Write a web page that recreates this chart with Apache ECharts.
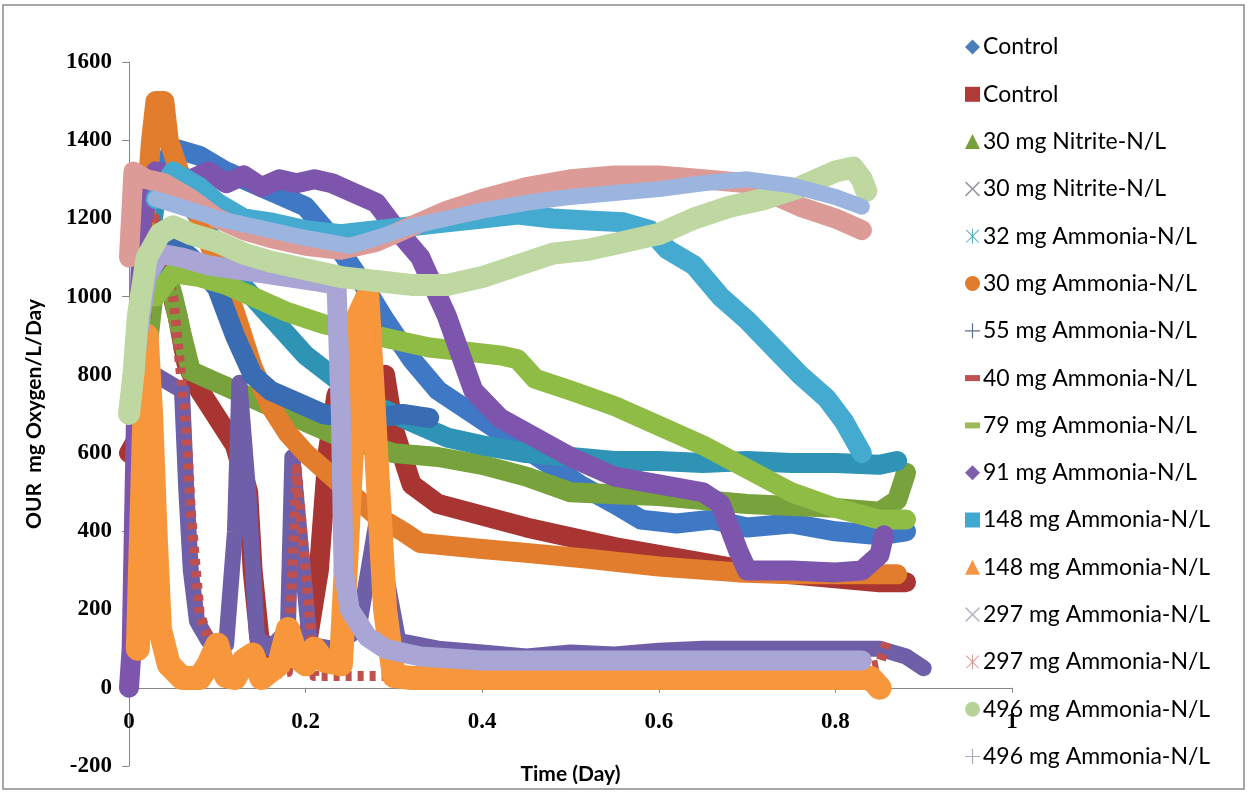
<!DOCTYPE html>
<html><head><meta charset="utf-8">
<script src="https://cdn.jsdelivr.net/npm/echarts/dist/echarts.min.js"></script>
<style>html,body{margin:0;padding:0;background:#fff}#chart{width:1249px;height:793px}</style>
</head><body><div id="chart"></div>
<script>
// ---- legend labels ----
const seriesLabels = [
  'Control', 'Control', '30 mg Nitrite-N/L', '30 mg Nitrite-N/L',
  '32 mg Ammonia-N/L', '30 mg Ammonia-N/L', '55 mg Ammonia-N/L', '40 mg Ammonia-N/L',
  '79 mg Ammonia-N/L', '91 mg Ammonia-N/L', '148 mg Ammonia-N/L', '148 mg Ammonia-N/L',
  '297 mg Ammonia-N/L', '297 mg Ammonia-N/L', '496 mg Ammonia-N/L', '496 mg Ammonia-N/L'
];
// ---- axis ranges [min, max, interval] ----
const xRange = [0, 1, 0.2];
const yRange = [-200, 1600, 200];

// ---- series values [time (day), OUR] ----
const controlDiamond = [[0.01,900],[0.03,1300],[0.05,1380],[0.08,1360],[0.11,1320],[0.14,1290],[0.17,1260],[0.2,1230],[0.23,1150],[0.26,1050],[0.29,940],[0.32,840],[0.35,760],[0.39,700],[0.43,640],[0.47,580],[0.51,520],[0.55,470],[0.58,430],[0.62,420],[0.66,430],[0.7,410],[0.75,420],[0.8,400],[0.85,390],[0.88,400]];
const controlSquare = [[0,600],[0.01,640],[0.025,1150],[0.04,1080],[0.055,950],[0.065,830],[0.08,760],[0.1,690],[0.12,620],[0.135,500],[0.14,300],[0.148,120],[0.16,100],[0.18,100],[0.2,90],[0.215,300],[0.225,600],[0.235,750],[0.25,700],[0.27,780],[0.29,800],[0.3,660],[0.32,520],[0.35,470],[0.4,440],[0.45,410],[0.5,385],[0.55,360],[0.6,340],[0.65,320],[0.7,300],[0.75,290],[0.8,280],[0.85,270],[0.88,270]];
const nitrite30Tri = [[0.02,850],[0.03,1050],[0.04,1080],[0.05,1000],[0.06,900],[0.07,810],[0.09,790],[0.11,770],[0.13,750],[0.15,730],[0.18,700],[0.21,670],[0.24,640],[0.27,620],[0.3,600],[0.35,590],[0.4,570],[0.45,540],[0.5,500],[0.55,495],[0.6,490],[0.65,480],[0.7,470],[0.75,465],[0.8,460],[0.85,450],[0.87,480],[0.88,550]];
const nitrite30X = [[0,0],[0.005,300],[0.01,560],[0.03,800],[0.06,760],[0.065,500],[0.07,300],[0.077,170],[0.09,120],[0.11,110],[0.12,400],[0.125,780],[0.135,500],[0.145,130],[0.16,100],[0.18,150],[0.185,590],[0.195,350],[0.205,110],[0.23,100],[0.26,150],[0.28,420],[0.29,300],[0.305,120],[0.35,100],[0.4,90],[0.45,80],[0.5,90],[0.55,85],[0.6,95],[0.65,100],[0.7,100],[0.75,100],[0.8,100],[0.85,100],[0.88,80],[0.9,50]];
const ammonia32Star = [[0.01,900],[0.03,1250],[0.05,1300],[0.08,1200],[0.12,1050],[0.16,950],[0.2,850],[0.24,780],[0.28,720],[0.32,680],[0.36,640],[0.4,620],[0.45,600],[0.5,590],[0.55,580],[0.6,580],[0.65,575],[0.7,580],[0.75,575],[0.8,575],[0.85,570],[0.87,580]];
const ammonia30Circle = [[0.015,1100],[0.025,1400],[0.03,1500],[0.04,1500],[0.045,1400],[0.06,1300],[0.08,1200],[0.1,1080],[0.12,960],[0.14,820],[0.16,720],[0.18,650],[0.2,600],[0.22,560],[0.25,500],[0.28,440],[0.31,400],[0.33,370],[0.4,355],[0.45,345],[0.52,330],[0.6,310],[0.69,295],[0.75,290],[0.8,290],[0.87,290]];
const ammonia55Plus = [[0.02,1000],[0.04,1150],[0.06,1120],[0.08,1080],[0.1,1020],[0.12,900],[0.14,800],[0.16,760],[0.19,730],[0.22,700],[0.25,690],[0.28,690],[0.31,700],[0.34,690]];
const ammonia40Dash = [[0.01,700],[0.03,1200],[0.05,1000],[0.065,660],[0.07,450],[0.08,190],[0.1,60],[0.12,40],[0.15,30],[0.18,40],[0.19,560],[0.2,300],[0.21,30],[0.24,30],[0.3,30],[0.35,40],[0.4,30],[0.45,40],[0.5,30],[0.6,30],[0.7,40],[0.8,40],[0.85,60],[0.86,130]];
const ammonia79Dash = [[0.03,1000],[0.05,1060],[0.08,1050],[0.11,1030],[0.14,1000],[0.18,960],[0.22,930],[0.26,910],[0.3,890],[0.34,870],[0.38,860],[0.42,850],[0.44,840],[0.46,790],[0.5,760],[0.55,720],[0.6,670],[0.65,620],[0.7,560],[0.75,500],[0.8,460],[0.85,430],[0.88,430]];
const ammonia91Diamond = [[0,0],[0.003,100],[0.008,700],[0.015,1200],[0.03,1320],[0.05,1310],[0.07,1300],[0.09,1320],[0.11,1290],[0.13,1310],[0.15,1280],[0.17,1300],[0.19,1290],[0.21,1300],[0.23,1290],[0.25,1270],[0.28,1240],[0.3,1180],[0.33,1100],[0.36,950],[0.39,760],[0.42,690],[0.46,640],[0.5,590],[0.55,540],[0.6,520],[0.65,500],[0.67,470],[0.69,350],[0.7,300],[0.75,300],[0.8,295],[0.83,300],[0.85,340],[0.855,390]];
const ammonia148Square = [[0.03,1250],[0.05,1320],[0.08,1280],[0.1,1240],[0.13,1200],[0.16,1190],[0.2,1170],[0.24,1160],[0.28,1170],[0.32,1180],[0.36,1190],[0.4,1200],[0.44,1210],[0.48,1200],[0.52,1195],[0.56,1190],[0.59,1170],[0.61,1120],[0.64,1080],[0.67,1000],[0.7,940],[0.73,870],[0.76,800],[0.79,740],[0.81,680],[0.83,600]];
const ammonia148Tri = [[0.01,100],[0.015,500],[0.02,900],[0.025,700],[0.03,400],[0.035,150],[0.045,60],[0.06,25],[0.08,25],[0.09,60],[0.1,110],[0.11,30],[0.12,25],[0.13,70],[0.14,85],[0.15,25],[0.17,60],[0.18,150],[0.19,80],[0.2,60],[0.21,100],[0.22,70],[0.24,60],[0.25,500],[0.26,950],[0.27,1000],[0.28,600],[0.29,200],[0.3,30],[0.32,25],[0.4,25],[0.5,25],[0.6,25],[0.7,25],[0.8,25],[0.84,25],[0.85,0]];
const ammonia297X = [[0,700],[0.01,900],[0.02,1050],[0.035,1110],[0.06,1100],[0.09,1080],[0.12,1070],[0.15,1060],[0.18,1050],[0.21,1040],[0.235,1030],[0.24,700],[0.243,300],[0.25,200],[0.27,130],[0.29,100],[0.33,80],[0.4,70],[0.5,70],[0.6,70],[0.7,70],[0.8,70],[0.83,70]];
const ammonia297Star = [[0,1100],[0.005,1320],[0.02,1300],[0.04,1290],[0.07,1250],[0.1,1200],[0.13,1170],[0.16,1150],[0.2,1130],[0.24,1120],[0.28,1140],[0.32,1180],[0.36,1220],[0.4,1250],[0.45,1280],[0.5,1300],[0.55,1310],[0.6,1310],[0.65,1300],[0.7,1290],[0.73,1260],[0.76,1230],[0.8,1200],[0.83,1170]];
const ammonia496Circle = [[0,700],[0.005,800],[0.01,950],[0.02,1100],[0.035,1160],[0.05,1180],[0.07,1160],[0.1,1140],[0.13,1110],[0.16,1090],[0.2,1070],[0.24,1050],[0.28,1040],[0.32,1030],[0.36,1030],[0.4,1050],[0.44,1080],[0.48,1110],[0.52,1120],[0.56,1140],[0.6,1160],[0.64,1200],[0.68,1230],[0.72,1250],[0.76,1280],[0.8,1320],[0.82,1330],[0.83,1300],[0.835,1270]];
const ammonia496Plus = [[0.03,1250],[0.1,1200],[0.2,1150],[0.25,1130],[0.28,1150],[0.32,1180],[0.36,1200],[0.4,1220],[0.45,1240],[0.5,1255],[0.55,1265],[0.6,1275],[0.65,1290],[0.7,1300],[0.75,1285],[0.8,1255],[0.83,1230]];

const seriesData = [controlDiamond, controlSquare, nitrite30Tri, nitrite30X, ammonia32Star, ammonia30Circle,
  ammonia55Plus, ammonia40Dash, ammonia79Dash, ammonia91Diamond, ammonia148Square, ammonia148Tri,
  ammonia297X, ammonia297Star, ammonia496Circle, ammonia496Plus];

// ---- styles ----
const P_X = 'path://M8,0 L50,42 L92,0 L100,8 L58,50 L100,92 L92,100 L50,58 L8,100 L0,92 L42,50 L0,8 Z';
const P_PLUS = 'path://M46,0 H54 V46 H100 V54 H54 V100 H46 V54 H0 V46 H46 Z';
const P_STAR = 'path://M47,0 H53 V100 H47 Z M10,6 L50,45 L90,6 L94,10 L55,50 L94,90 L90,94 L50,55 L10,94 L6,90 L45,50 L6,10 Z';
const P_DASH = 'path://M0,0 H100 V40 H0 Z';
const icons = ['diamond','rect','triangle',P_X,P_STAR,'circle',P_PLUS,P_DASH,P_DASH,'diamond','rect','triangle',P_X,P_STAR,'circle',P_PLUS];
const colors = ['#3f78c4','#a83532','#77a23c','#6e5fa8','#2f93b5','#e27d2e','#3a6cb4','#c0504d','#8fbc45','#7e55ad','#45aad0','#f8963c','#a9a6d6','#dc9b96','#bfd8a2','#9cb5de'];
const legendColors = ['#4a7ebb','#b03a37','#77a03a','#9a9aa8','#4bacc6','#e07b2c','#5a6f8c','#c0504d','#9bbb59','#7e5fac','#3fa9cf','#f79646','#b8b8c8','#d99694','#b8d39a','#a8acb8'];
const widths = [20,20,20,16,20,20,20,10,20,20,20,24,20,20,22,16];
const lineTypes = ['solid','solid','solid','solid','solid','solid','solid',[6,6],'solid','solid','solid','solid','solid','solid','solid','solid'];

const keys = seriesLabels.map((_, i) => 's' + i);
const chart = echarts.init(document.getElementById('chart'));
chart.setOption({
  animation: false,
  backgroundColor: '#fff',
  graphic: [{ type: 'rect', shape: { x: 3, y: 5, width: 1241, height: 784 }, style: { fill: 'none', stroke: '#8a8a8a', lineWidth: 1.5 }, silent: true }],
  grid: { left: 129, right: 237, top: 62, bottom: 27, containLabel: false, outerBoundsMode: 'none' },
  legend: {
    orient: 'vertical', left: 960, top: 30,
    itemWidth: 15, itemHeight: 15, itemGap: 23.3,
    data: keys.map((k, i) => ({ name: k, icon: icons[i], itemStyle: { color: legendColors[i] } })),
    formatter: name => seriesLabels[keys.indexOf(name)],
    textStyle: { fontFamily: 'Lato', fontSize: 23, color: '#000', lineHeight: 24, padding: [0,0,0,-2] },
    selectedMode: false
  },
  xAxis: {
    type: 'value', min: xRange[0], max: xRange[1], interval: xRange[2],
    splitLine: { show: false },
    axisLine: { onZero: true, lineStyle: { color: '#868686', width: 1 } },
    axisTick: { show: true, length: 5, lineStyle: { color: '#868686' } },
    axisLabel: { margin: -55, fontFamily: 'Liberation Serif', fontWeight: 'bold', fontSize: 23, color: '#000', formatter: v => String(v) },
    name: 'Time (Day)', nameLocation: 'middle', nameGap: -2,
    nameTextStyle: { fontFamily: 'Lato', fontWeight: 'bold', fontSize: 21, color: '#000' }
  },
  yAxis: {
    type: 'value', min: yRange[0], max: yRange[1], interval: yRange[2],
    splitLine: { show: false },
    axisLine: { show: true, lineStyle: { color: '#868686', width: 1 } },
    axisTick: { show: true, length: 7, lineStyle: { color: '#868686' } },
    axisLabel: { margin: 17, fontFamily: 'Liberation Serif', fontWeight: 'bold', fontSize: 23, color: '#000', formatter: v => String(v) },
    name: 'OUR  mg Oxygen/L/Day', nameLocation: 'middle', nameGap: 84, nameRotate: 90,
    nameTextStyle: { fontFamily: 'Lato', fontWeight: 'bold', fontSize: 21, color: '#000' }
  },
  series: keys.map((k, i) => ({
    name: k, type: 'line', data: seriesData[i], color: colors[i],
    symbol: icons[i], symbolSize: 14, showSymbol: false,
    lineStyle: { width: widths[i], type: lineTypes[i], cap: lineTypes[i] === 'solid' ? 'round' : 'butt', join: 'round', color: colors[i] },
    itemStyle: { color: colors[i] },
    silent: true
  }))
});
</script></body></html>
